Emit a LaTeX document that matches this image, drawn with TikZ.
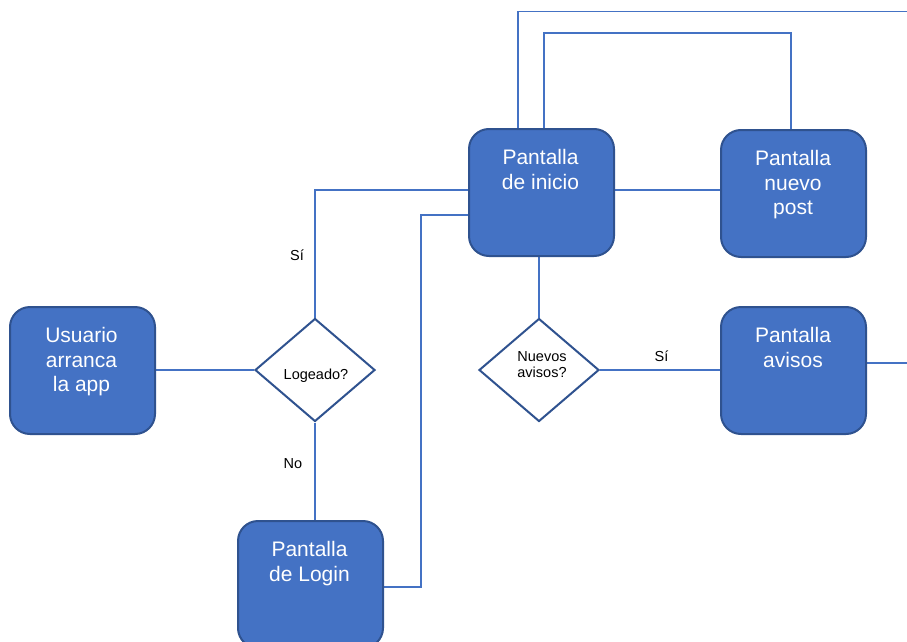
\documentclass[tikz,border=0pt]{standalone}
\usepackage{fontspec}
\setmainfont{Liberation Sans}
\usetikzlibrary{shapes.geometric,backgrounds}
\definecolor{boxfill}{HTML}{4472C4}
\definecolor{boxedge}{HTML}{2F528F}
\definecolor{wire}{HTML}{4472C4}
\begin{document}
\begin{tikzpicture}[x=1pt,y=-1pt,
  screen/.style={draw=boxedge,fill=boxfill,line width=2pt,rounded corners=20pt,
    minimum width=145pt,minimum height=127pt,inner sep=0pt,anchor=north west},
  screentext/.style={text=white,align=center,anchor=north,inner sep=0pt,
    font=\fontsize{21}{24.4}\selectfont},
  decision/.style={diamond,draw=boxedge,fill=white,line width=2pt,aspect=1.17,
    minimum width=120pt,minimum height=103pt,inner sep=0pt},
  dtext/.style={align=center,inner sep=0pt,font=\fontsize{14.5}{16.7}\selectfont},
  lbl/.style={inner sep=0pt,anchor=base,font=\fontsize{14.5}{16.7}\selectfont},
  wireline/.style={draw=wire,line width=1.3pt}]
\useasboundingbox (0,0) rectangle (907,642);

% process boxes
\node[screen] (usr) at (9,306) {};
\node[screen] (ini) at (468,128) {};
\node[screen] (post) at (720,129) {};
\node[screen] (avi) at (720,306) {};
\node[screen] (login) at (237,520) {};

\node[screentext] (usrt) at (81.5,327.5) {Usuario\\arranca\\la app};
\node[screentext] (init) at (540.5,149.5) {Pantalla\\de inicio};
\node[screentext] (postt) at (793,150.5) {Pantalla\\nuevo\\post};
\node[screentext] (avit) at (793,327.5) {Pantalla\\avisos};
\node[screentext] (logint) at (309.5,541.5) {Pantalla\\de Login};

% decisions
\node[decision] (log) at (315,370) {};
\node[dtext,anchor=base] (logt) at (316,379) {Logeado?};
\node[decision] (nue) at (539,370) {};
\node[dtext,anchor=north] (nuet) at (542,351) {Nuevos\\avisos?};

% free ends of the two lines leaving on the right
\coordinate (e1) at (907,11.5);
\coordinate (e2) at (907,363);

% connectors, kept behind the shapes
\begin{scope}[on background layer]
\draw[wireline] (usr.east |- log.west) -- (log.west);
\draw[wireline] (log.north) |- (ini.west |- 0,190);
\draw[wireline] (log.south) -- (log.south |- login.north);
\draw[wireline] (login.east |- 0,587) -| (421,215) -- (ini.west |- 0,215);
\draw[wireline] (ini.east |- 0,190) -- (post.west |- 0,190);
\draw[wireline] (ini.north -| 518,0) |- (e1);
\draw[wireline] (ini.north -| 544,0) |- (791,33) -- (post.north -| 791,0);
\draw[wireline] (ini.south -| nue.north) -- (nue.north);
\draw[wireline] (nue.east) -- (avi.west |- nue.east);
\draw[wireline] (avi.east |- e2) -- (e2);
\end{scope}

% branch labels
\node[lbl] (si1) at (297,260.5) {Sí};
\node[lbl] (no1) at (293,468) {No};
\node[lbl] (si2) at (661.5,361) {Sí};
\end{tikzpicture}
\end{document}
